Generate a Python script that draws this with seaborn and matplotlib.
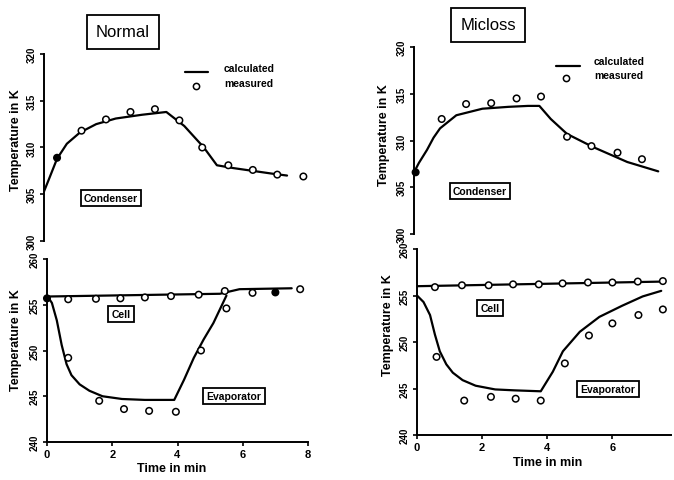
import matplotlib
matplotlib.use("Agg")
import matplotlib.pyplot as plt
import seaborn as sns

sns.set_style("ticks")
plt.rcParams['font.family'] = ['Liberation Sans', 'DejaVu Sans']
plt.rcParams['text.color'] = 'black'
plt.rcParams['xtick.color'] = 'black'
plt.rcParams['ytick.color'] = 'black'
plt.rcParams['axes.edgecolor'] = 'black'

# ---------------- data ----------------
# Normal - condenser
n_cond_calc_t = [0, 0.15, 0.4, 0.7, 1.1, 1.6, 2.2, 3.0, 3.75, 4.3, 4.9, 5.3, 5.8, 6.4, 7.0, 7.45]
n_cond_calc_T = [305.3, 306.6, 308.8, 310.4, 311.6, 312.5, 313.1, 313.5, 313.8, 312.3, 310.0,
                 308.1, 307.8, 307.5, 307.2, 307.0]
n_cond_meas_t = [0.4, 1.15, 1.9, 2.65, 3.4, 4.15, 4.85, 5.65, 6.4, 7.15, 7.95]
n_cond_meas_T = [308.9, 311.8, 313.0, 313.8, 314.1, 312.9, 310.0, 308.1, 307.6, 307.1, 306.9]
n_cond_meas_filled = [True] + [False] * 10
# Normal - cell / evaporator
n_cell_calc_t = [0, 5.3, 5.9, 7.5]
n_cell_calc_T = [255.9, 256.2, 256.7, 256.8]
n_cell_meas_t = [0, 0.65, 1.5, 2.25, 3.0, 3.8, 4.65, 5.45, 6.3, 7.0, 7.76]
n_cell_meas_T = [255.7, 255.6, 255.65, 255.7, 255.8, 255.95, 256.1, 256.5, 256.3, 256.35, 256.7]
n_cell_meas_filled = [True] + [False] * 8 + [True, False]
n_evap_calc_t = [0, 0.15, 0.3, 0.45, 0.6, 0.75, 1.0, 1.3, 1.7, 2.3, 3.0, 3.9, 4.2, 4.5, 4.8, 5.1, 5.5]
n_evap_calc_T = [256.0, 255.2, 253.3, 250.6, 248.5, 247.3, 246.3, 245.6, 245.0, 244.7, 244.6,
                 244.6, 246.8, 249.2, 251.2, 253.0, 256.0]
n_evap_meas_t = [0.65, 1.6, 2.36, 3.13, 3.95, 4.72, 5.5]
n_evap_meas_T = [249.2, 244.5, 243.6, 243.4, 243.3, 250.0, 254.6]
n_evap_meas_filled = [False] * 7

# Micloss - condenser
m_cond_calc_t = [0, 0.15, 0.4, 0.6, 0.8, 1.3, 2.1, 2.9, 3.5, 3.85, 4.2, 4.7, 5.5, 6.55, 7.5]
m_cond_calc_T = [306.6, 307.6, 309.0, 310.3, 311.3, 312.7, 313.4, 313.6, 313.7, 313.7, 312.3,
                 310.7, 309.3, 307.7, 306.7]
m_cond_meas_t = [0.05, 0.85, 1.6, 2.37, 3.15, 3.9, 4.7, 5.45, 6.25, 7.0]
m_cond_meas_T = [306.6, 312.3, 313.9, 314.0, 314.5, 314.7, 310.4, 309.4, 308.7, 308.0]
m_cond_meas_filled = [True] + [False] * 9
# Micloss - cell / evaporator
m_cell_calc_t = [0, 7.6]
m_cell_calc_T = [256.0, 256.5]
m_cell_meas_t = [0.55, 1.38, 2.2, 2.95, 3.74, 4.47, 5.25, 6.0, 6.78, 7.55]
m_cell_meas_T = [255.9, 256.1, 256.1, 256.2, 256.2, 256.3, 256.4, 256.4, 256.5, 256.55]
m_cell_meas_filled = [False] * 10
m_evap_calc_t = [0, 0.2, 0.4, 0.55, 0.7, 0.9, 1.1, 1.4, 1.8, 2.4, 3.0, 3.8, 4.17, 4.48, 5.0,
                 5.6, 6.3, 6.93, 7.5]
m_evap_calc_T = [255.0, 254.3, 252.9, 250.8, 249.0, 247.6, 246.7, 245.9, 245.3, 244.9, 244.8,
                 244.7, 246.8, 249.0, 251.1, 252.7, 253.9, 254.9, 255.5]
m_evap_meas_t = [0.6, 1.45, 2.27, 3.03, 3.8, 4.54, 5.28, 6.0, 6.8, 7.55]
m_evap_meas_T = [248.4, 243.7, 244.1, 243.9, 243.7, 247.7, 250.7, 252.0, 252.9, 253.5]
m_evap_meas_filled = [False] * 10

upper_yticks = [300, 305, 310, 315, 320]
lower_yticks = [240, 245, 250, 255, 260]
x_ticks = [0, 2, 4, 6, 8]

# ---------------- figure ----------------
W, H = 674, 481
fig = plt.figure(figsize=(W / 100, H / 100), dpi=100)


def ax_at(x0, y0, x1, y1):
    return fig.add_axes([x0 / W, 1 - y1 / H, (x1 - x0) / W, (y1 - y0) / H])


def draw(ax, calc_list, meas_list):
    for t, T in calc_list:
        sns.lineplot(x=t, y=T, ax=ax, color="black", lw=1.6, estimator=None, sort=False)
    for t, T, filled in meas_list:
        fc = ["black" if f else "white" for f in filled]
        sns.scatterplot(x=t, y=T, ax=ax, s=22, c=fc, edgecolor="black",
                        linewidth=1.1, zorder=5, clip_on=False)


def style(ax, lower, yticks, xmax, xt):
    ax.set_ylim(yticks[0], yticks[-1])
    ax.set_xlim(0, xmax)
    ax.set_yticks(yticks)
    ax.set_yticklabels([str(v) for v in yticks], rotation=90, va="center",
                       fontsize=7, fontweight="bold")
    ax.tick_params(axis="y", length=3, width=1.2, pad=2)
    for s in ["top", "right"]:
        ax.spines[s].set_visible(False)
    ax.spines["left"].set_linewidth(1.4)
    ax.set_xlabel("")
    ax.set_ylabel("")
    if lower:
        ax.set_xticks(xt)
        ax.set_xticklabels([str(v) for v in xt], fontsize=8, fontweight="bold")
        ax.tick_params(axis="x", length=3, width=1.2, pad=2)
        ax.spines["bottom"].set_linewidth(1.4)
    else:
        ax.spines["bottom"].set_visible(False)
        ax.set_xticks([])
    ax.patch.set_alpha(0)


# Normal
ax1 = ax_at(44, 55, 305, 242)
draw(ax1, [(n_cond_calc_t, n_cond_calc_T)], [(n_cond_meas_t, n_cond_meas_T, n_cond_meas_filled)])
style(ax1, False, upper_yticks, 8, x_ticks)

ax2 = ax_at(47, 260, 308, 443)
draw(ax2, [(n_cell_calc_t, n_cell_calc_T), (n_evap_calc_t, n_evap_calc_T)],
     [(n_cell_meas_t, n_cell_meas_T, n_cell_meas_filled),
      (n_evap_meas_t, n_evap_meas_T, n_evap_meas_filled)])
style(ax2, True, lower_yticks, 8, x_ticks)

# Micloss
ax3 = ax_at(414, 48, 668, 235)
draw(ax3, [(m_cond_calc_t, m_cond_calc_T)], [(m_cond_meas_t, m_cond_meas_T, m_cond_meas_filled)])
style(ax3, False, upper_yticks, 7.8, x_ticks[:4])

ax4 = ax_at(417, 250, 671, 436)
draw(ax4, [(m_cell_calc_t, m_cell_calc_T), (m_evap_calc_t, m_evap_calc_T)],
     [(m_cell_meas_t, m_cell_meas_T, m_cell_meas_filled),
      (m_evap_meas_t, m_evap_meas_T, m_evap_meas_filled)])
style(ax4, True, lower_yticks, 7.8, x_ticks[:4])


def ftext(x, y, s, size, box=False, weight="bold", rot=0, pad=0.3):
    kw = {}
    if box:
        kw["bbox"] = dict(boxstyle=f"square,pad={pad}", fc="white", ec="black", lw=1.3)
    fig.text(x / W, 1 - y / H, s, fontsize=size, fontweight=weight, rotation=rot,
             ha="center", va="center", **kw)


# titles
ftext(123, 33, "Normal", 12, box=True, weight="normal", pad=0.55)
ftext(488, 26, "Micloss", 12, box=True, weight="normal", pad=0.55)

# y labels
ftext(16, 140, "Temperature in K", 9, rot=90)
ftext(16, 340, "Temperature in K", 9, rot=90)
ftext(384, 135, "Temperature in K", 9, rot=90)
ftext(388, 325, "Temperature in K", 9, rot=90)

# x labels
ftext(172, 469, "Time in min", 9)
ftext(548, 463, "Time in min", 9)

# component labels
ftext(111, 199, "Condenser", 7.5, box=True)
ftext(121, 315, "Cell", 7.5, box=True)
ftext(234, 397, "Evaporator", 7.5, box=True)
ftext(480, 192, "Condenser", 7.5, box=True)
ftext(490, 309, "Cell", 7.5, box=True)
ftext(608, 390, "Evaporator", 7.5, box=True)

# legends
fig.add_artist(plt.Line2D([185 / W, 208 / W], [1 - 73 / H, 1 - 73 / H], color="black", lw=1.6))
fig.add_artist(plt.Line2D([196 / W], [1 - 87 / H], marker="o", ms=4.5, mfc="white", mec="black", mew=1.1))
fig.text(224 / W, 1 - 69 / H, "calculated", fontsize=7.5, fontweight="bold", va="center")
fig.text(224 / W, 1 - 84 / H, "measured", fontsize=7.5, fontweight="bold", va="center")

fig.add_artist(plt.Line2D([556 / W, 580 / W], [1 - 67 / H, 1 - 67 / H], color="black", lw=1.6))
fig.add_artist(plt.Line2D([566 / W], [1 - 79 / H], marker="o", ms=4.5, mfc="white", mec="black", mew=1.1))
fig.text(594 / W, 1 - 62 / H, "calculated", fontsize=7.5, fontweight="bold", va="center")
fig.text(594 / W, 1 - 76 / H, "measured", fontsize=7.5, fontweight="bold", va="center")

fig.savefig("out.png", dpi=100)
